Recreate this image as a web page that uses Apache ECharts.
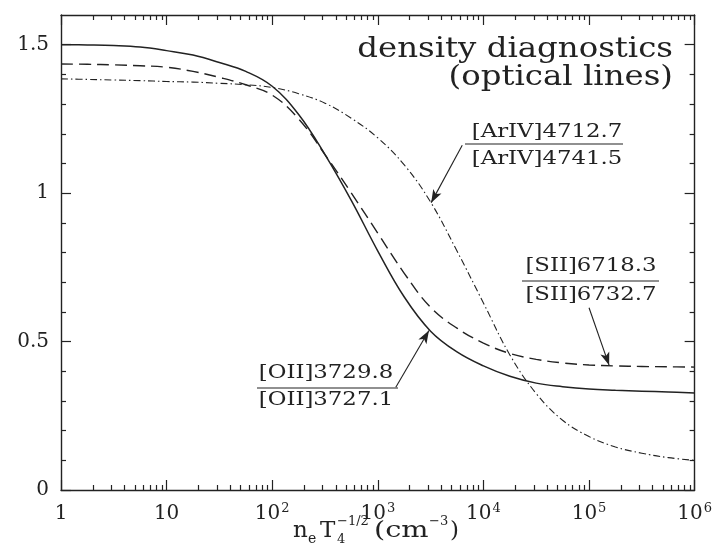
<!DOCTYPE html>
<html>
<head>
<meta charset="utf-8">
<script src="https://cdn.jsdelivr.net/npm/echarts@6/dist/echarts.min.js"></script>
<style>
  html, body { margin: 0; padding: 0; background: #fff; }
  #chart { width: 715px; height: 545px; }
</style>
</head>
<body>
<div id="chart"></div>
<script>
// Electron density n_e T4^(-1/2) in cm^-3, quarter-decade sample points
const density = [1, 1.78, 3.16, 5.62, 10, 17.8, 31.6, 56.2, 100, 178, 316, 562, 1000,
  1780, 3160, 5620, 10000, 17800, 31600, 56200, 100000, 178000, 316000, 562000, 1000000];

// Line-intensity ratios for the three optical doublets
const ratioOII = [1.50, 1.499, 1.497, 1.492, 1.48, 1.465, 1.44, 1.41, 1.36, 1.265, 1.13, 0.975, 0.805,
  0.65, 0.535, 0.465, 0.418, 0.383, 0.36, 0.348, 0.34, 0.336, 0.333, 0.33, 0.327];
const ratioSII = [1.435, 1.434, 1.432, 1.429, 1.424, 1.41, 1.39, 1.365, 1.33, 1.25, 1.13, 1.00, 0.865,
  0.73, 0.615, 0.545, 0.495, 0.46, 0.44, 0.428, 0.421, 0.418, 0.416, 0.415, 0.414];
const ratioArIV = [1.385, 1.383, 1.381, 1.379, 1.376, 1.374, 1.37, 1.365, 1.356, 1.335, 1.303, 1.252, 1.186,
  1.095, 0.97, 0.805, 0.63, 0.455, 0.325, 0.235, 0.18, 0.145, 0.124, 0.109, 0.10];

// Tick positions
const xMajorTicks = [1, 10, 100, 1000, 10000, 100000, 1000000];
const yMajorTicks = [0, 0.5, 1, 1.5];
const yMinorTicks = [0.1, 0.2, 0.3, 0.4, 0.6, 0.7, 0.8, 0.9, 1.1, 1.2, 1.3, 1.4];
const xMinorTicks = [];
for (let d = 1; d < 1000000; d *= 10) {
  for (let m = 2; m <= 9; m++) xMinorTicks.push(m * d);
}

const INK = '#222222';
const SERIF = 'DejaVu Serif';

function pairs(ys) { return density.map((x, i) => [x, ys[i]]); }

function xAxisDef(pos, ticks, len, withLabels, withLine) {
  return {
    type: 'log', logBase: 10, min: 1, max: 1000000, position: pos,
    axisLine: { show: withLine, onZero: false, lineStyle: { color: INK, width: 1.4 } },
    axisTick: { show: true, inside: true, length: len, customValues: ticks, lineStyle: { color: INK, width: 1.2 } },
    splitLine: { show: false },
    axisLabel: withLabels ? {
      show: true, customValues: xMajorTicks, margin: 12,
      color: INK, fontFamily: SERIF, fontSize: 20,
      formatter: function (v) {
        const e = Math.round(Math.log10(v));
        if (e === 0) return '{b|1}';
        if (e === 1) return '{b|10}';
        return '{b|10}{s|' + e + '}';
      },
      rich: {
        b: { fontFamily: SERIF, fontSize: 20, color: INK, verticalAlign: 'bottom', lineHeight: 22 },
        s: { fontFamily: SERIF, fontSize: 13, color: INK, verticalAlign: 'top', lineHeight: 22, padding: [0, 0, 8, 1] }
      }
    } : { show: false }
  };
}

function yAxisDef(pos, ticks, len, withLabels, withLine) {
  return {
    type: 'value', min: 0, max: 1.6, position: pos,
    axisLine: { show: withLine, onZero: false, lineStyle: { color: INK, width: 1.4 } },
    axisTick: { show: true, inside: true, length: len, customValues: ticks, lineStyle: { color: INK, width: 1.2 } },
    splitLine: { show: false },
    axisLabel: withLabels ? {
      show: true, customValues: yMajorTicks, margin: 12,
      color: INK, fontFamily: SERIF, fontSize: 20
    } : { show: false }
  };
}

const lineBase = { type: 'line', showSymbol: false, smooth: 0.4, xAxisIndex: 0, yAxisIndex: 0, silent: true, z: 5 };

function arrow(from, to) {
  return {
    silent: true, symbol: ['none', 'arrow'], symbolSize: [7, 13],
    label: { show: false },
    lineStyle: { color: INK, width: 1.1, type: 'solid' },
    data: [[{ coord: from }, { coord: to }]]
  };
}

function txt(x, y, s, size, align, sx) {
  return {
    type: 'text', x: x, y: y, scaleX: sx || 1, originX: 0, originY: 0, silent: true,
    style: { text: s, fill: INK, font: size + 'px "' + SERIF + '"', align: align || 'left', verticalAlign: 'middle' }
  };
}
function fracText(x, y, s) { return txt(x, y, s, 19, 'center', 1.2); }
function fracBar(x1, x2, y) {
  return { type: 'line', silent: true, shape: { x1: x1, y1: y, x2: x2, y2: y }, style: { stroke: INK, lineWidth: 1.2 } };
}

const chart = echarts.init(document.getElementById('chart'), null, { renderer: 'canvas' });

chart.setOption({
  animation: false,
  backgroundColor: '#fff',
  grid: { left: 61, right: 17, top: 15, bottom: 55, containLabel: false },
  xAxis: [
    xAxisDef('bottom', xMajorTicks, 10, true, true),
    xAxisDef('bottom', xMinorTicks, 5, false, false),
    xAxisDef('top', xMajorTicks, 10, false, true),
    xAxisDef('top', xMinorTicks, 5, false, false)
  ],
  yAxis: [
    yAxisDef('left', yMajorTicks, 10, true, true),
    yAxisDef('left', yMinorTicks, 5, false, false),
    yAxisDef('right', yMajorTicks, 10, false, true),
    yAxisDef('right', yMinorTicks, 5, false, false)
  ],
  series: [
    Object.assign({}, lineBase, {
      name: '[OII]3729.8/[OII]3727.1', data: pairs(ratioOII),
      lineStyle: { color: INK, width: 1.5, type: 'solid' },
      markLine: arrow([1480, 0.346], [3050, 0.537])
    }),
    Object.assign({}, lineBase, {
      name: '[SII]6718.3/[SII]6732.7', data: pairs(ratioSII),
      lineStyle: { color: INK, width: 1.4, type: [12, 6] },
      markLine: arrow([100000, 0.614], [155000, 0.42])
    }),
    Object.assign({}, lineBase, {
      name: '[ArIV]4712.7/[ArIV]4741.5', data: pairs(ratioArIV),
      lineStyle: { color: INK, width: 1.1, type: [7, 3, 1.5, 3] },
      markLine: arrow([6300, 1.161], [3200, 0.968])
    })
  ],
  graphic: [
    txt(673, 50, 'density diagnostics', 27, 'right', 1.2),
    txt(673, 78, '(optical lines)', 27, 'right', 1.2),
    // [ArIV] ratio label
    fracText(547, 132, '[ArIV]4712.7'),
    fracBar(465, 623, 144),
    fracText(547, 159, '[ArIV]4741.5'),
    // [SII] ratio label
    fracText(591, 266, '[SII]6718.3'),
    fracBar(522, 659, 281),
    fracText(591, 295, '[SII]6732.7'),
    // [OII] ratio label
    fracText(326, 373, '[OII]3729.8'),
    fracBar(257, 398, 388),
    fracText(326, 400, '[OII]3727.1'),
    // x-axis title: n_e T_4^{-1/2} (cm^{-3})
    txt(293, 531, 'n', 23),
    txt(308, 539, 'e', 14),
    txt(320, 531, 'T', 23),
    txt(337, 522, '\u22121/2', 13),
    txt(337, 540, '4', 13),
    txt(374, 531, '(cm', 23, 'left', 1.25),
    txt(429, 522, '\u22123', 13),
    txt(450, 531, ')', 23)
  ]
});
</script>
</body>
</html>
